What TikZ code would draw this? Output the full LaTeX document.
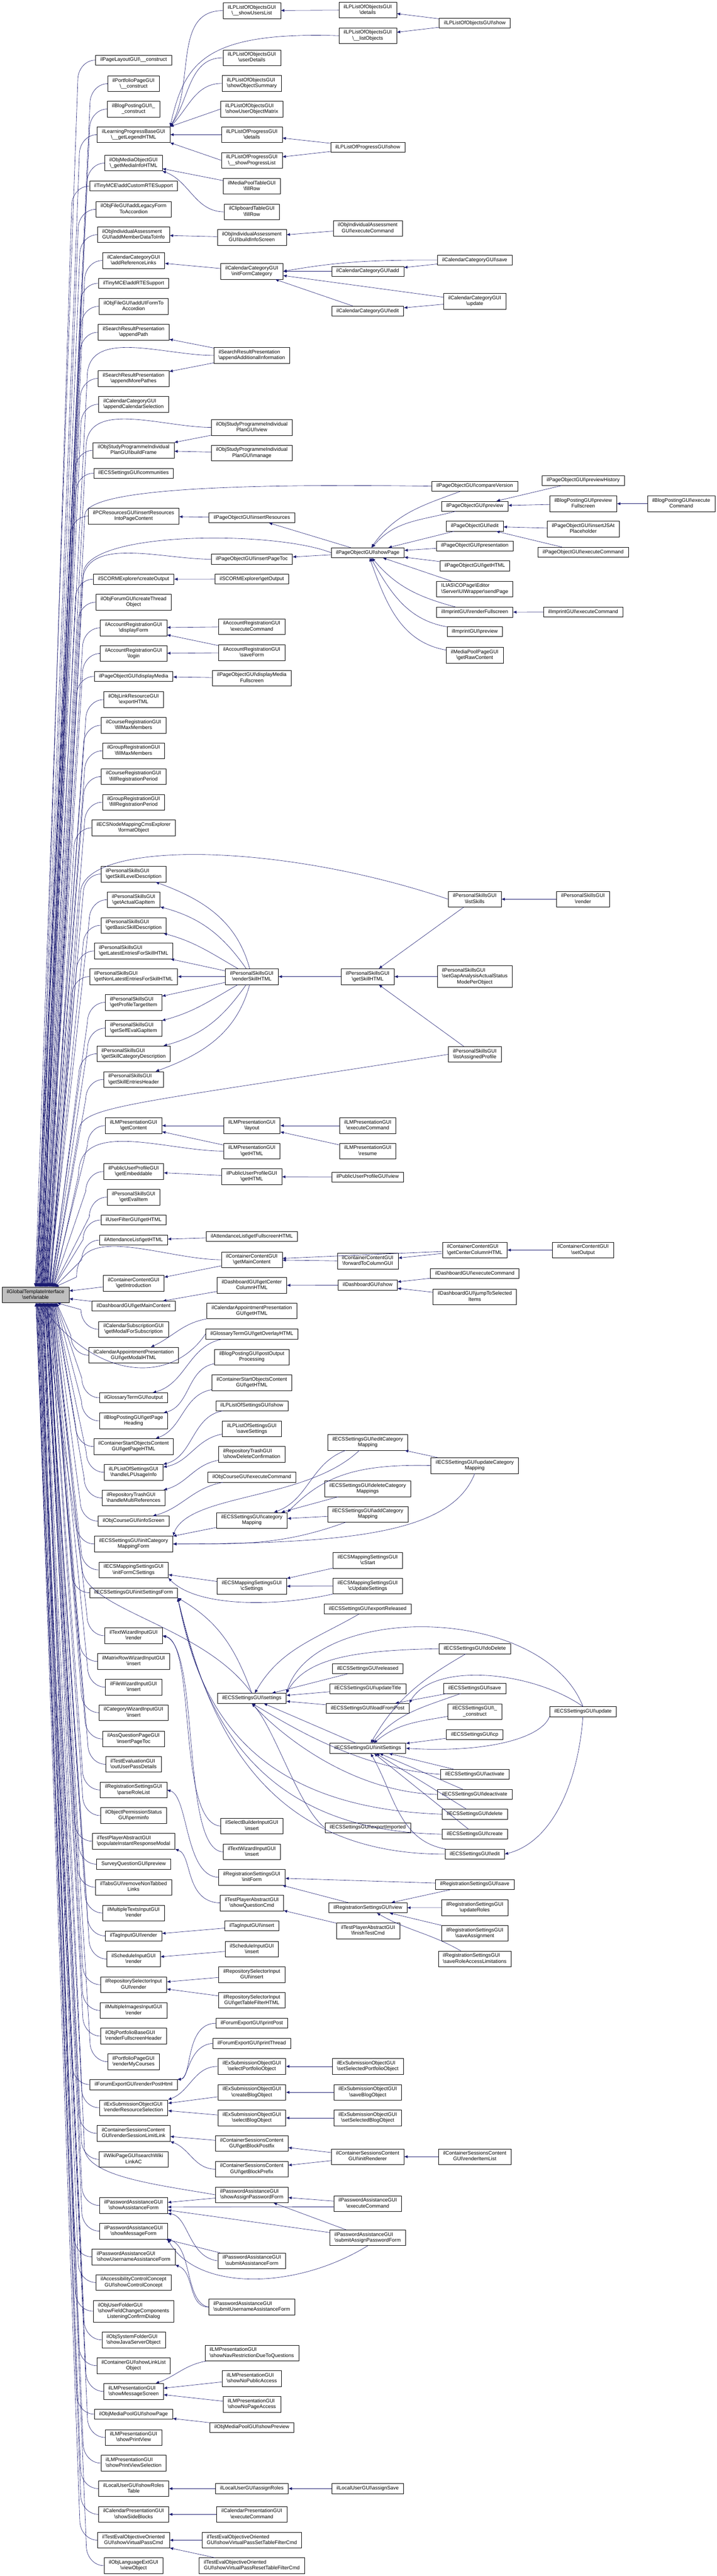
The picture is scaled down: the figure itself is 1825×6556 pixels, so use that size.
\documentclass[tikz,border=0pt]{standalone}
\usepackage{fontspec}
\setmainfont{Liberation Sans}
\usetikzlibrary{arrows.meta}
\definecolor{edgeblue}{HTML}{191970}
\definecolor{rootgray}{HTML}{BFBFBF}
\newcommand{\bsl}{\textbackslash}
\newcommand{\onel}[1]{\begin{tabular}{@{}c@{}}#1\end{tabular}}
\newcommand{\twol}[2]{\begin{tabular}{@{}l@{}}#1\\\multicolumn{1}{@{}c@{}}{#2}\end{tabular}}
\newcommand{\threel}[3]{\begin{tabular}{@{}l@{}}#1\\#2\\\multicolumn{1}{@{}c@{}}{#3}\end{tabular}}
\tikzset{
  fn/.style={draw=black, line width=0.8pt, fill=white, inner xsep=12pt, inner ysep=5.3pt, font=\fontsize{13}{14.7}\selectfont},
  rootfn/.style={fn, fill=rootgray},
  call/.style={draw=edgeblue, line width=0.8pt, -{Latex[length=9pt,width=7.5pt]}}
}
\begin{document}
\begin{tikzpicture}[x=1pt,y=1pt]
\useasboundingbox (0,0) rectangle (1825,-6556);

% the function itself
\node[rootfn] (root) at (90.4,-3295.6) {\twol{ilGlobalTemplateInterface}{\bsl setVariable}};

% first column of callers
\node[fn] (pagelayout) at (340,-153) {\onel{ilPageLayoutGUI\bsl\_\_construct}};
\node[fn] (portfoliopage) at (340,-213) {\twol{ilPortfolioPageGUI}{\bsl\_\_construct}};
\node[fn] (blogposting) at (340,-277.5) {\twol{ilBlogPostingGUI\bsl\_}{\_construct}};
\node[fn] (legend) at (340,-342.7) {\twol{ilLearningProgressBaseGUI}{\bsl\_\_getLegendHTML}};
\node[fn] (mediainfo) at (340,-415) {\twol{ilObjMediaObjectGUI}{\bsl\_getMediaInfoHTML}};
\node[fn] (customrte) at (340,-473.5) {\onel{ilTinyMCE\bsl addCustomRTESupport}};
\node[fn] (legacyform) at (340,-532.8) {\twol{ilObjFileGUI\bsl addLegacyForm}{ToAccordion}};
\node[fn] (memberdata) at (340,-597.3) {\twol{ilObjIndividualAssessment}{GUI\bsl addMemberDataToInfo}};
\node[fn] (reflinks) at (340,-663) {\twol{ilCalendarCategoryGUI}{\bsl addReferenceLinks}};
\node[fn] (rtesupport) at (340,-721) {\onel{ilTinyMCE\bsl addRTESupport}};
\node[fn] (uiform) at (340,-779.7) {\twol{ilObjFileGUI\bsl addUIFormTo}{Accordion}};
\node[fn] (appendpath) at (340,-845.7) {\twol{ilSearchResultPresentation}{\bsl appendPath}};
\node[fn] (morepathes) at (340,-963.2) {\twol{ilSearchResultPresentation}{\bsl appendMorePathes}};
\node[fn] (calsel) at (340,-1028.8) {\twol{ilCalendarCategoryGUI}{\bsl appendCalendarSelection}};
\node[fn] (buildframe) at (340,-1146.1) {\twol{ilObjStudyProgrammeIndividual}{PlanGUI\bsl buildFrame}};
\node[fn] (communities) at (340,-1204.3) {\onel{ilECSSettingsGUI\bsl communities}};
\node[fn] (pcresources) at (340,-1313.4) {\twol{ilPCResourcesGUI\bsl insertResources}{IntoPageContent}};
\node[fn] (createoutput) at (340,-1474.1) {\onel{ilSCORMExplorer\bsl createOutput}};
\node[fn] (forumthread) at (340,-1532.6) {\twol{ilObjForumGUI\bsl createThread}{Object}};
\node[fn] (displayform) at (340,-1597.9) {\twol{ilAccountRegistrationGUI}{\bsl displayForm}};
\node[fn] (login) at (340,-1663.1) {\twol{ilAccountRegistrationGUI}{\bsl login}};
\node[fn] (displaymedia) at (340,-1721.4) {\onel{ilPageObjectGUI\bsl displayMedia}};
\node[fn] (exporthtml) at (340,-1780.6) {\twol{ilObjLinkResourceGUI}{\bsl exportHTML}};
\node[fn] (crsmax) at (340,-1845.9) {\twol{ilCourseRegistrationGUI}{\bsl fillMaxMembers}};
\node[fn] (grpmax) at (340,-1910.8) {\twol{ilGroupRegistrationGUI}{\bsl fillMaxMembers}};
\node[fn] (crsperiod) at (340,-1976.4) {\twol{ilCourseRegistrationGUI}{\bsl fillRegistrationPeriod}};
\node[fn] (grpperiod) at (340,-2041.6) {\twol{ilGroupRegistrationGUI}{\bsl fillRegistrationPeriod}};
\node[fn] (formatobj) at (340,-2106.9) {\twol{ilECSNodeMappingCmsExplorer}{\bsl formatObject}};
\node[fn] (skilllevel) at (340,-2224.5) {\twol{ilPersonalSkillsGUI}{\bsl getSkillLevelDescription}};
\node[fn] (actualgap) at (340,-2289.8) {\twol{ilPersonalSkillsGUI}{\bsl getActualGapItem}};
\node[fn] (basicskill) at (340,-2355) {\twol{ilPersonalSkillsGUI}{\bsl getBasicSkillDescription}};
\node[fn] (latest) at (340,-2420.3) {\twol{ilPersonalSkillsGUI}{\bsl getLatestEntriesForSkillHTML}};
\node[fn] (nonlatest) at (340,-2485.5) {\twol{ilPersonalSkillsGUI}{\bsl getNonLatestEntriesForSkillHTML}};
\node[fn] (profiletarget) at (340,-2551.1) {\twol{ilPersonalSkillsGUI}{\bsl getProfileTargetItem}};
\node[fn] (selfeval) at (340,-2616.7) {\twol{ilPersonalSkillsGUI}{\bsl getSelfEvalGapItem}};
\node[fn] (skillcat) at (340,-2681.9) {\twol{ilPersonalSkillsGUI}{\bsl getSkillCategoryDescription}};
\node[fn] (entrieshead) at (340,-2747.2) {\twol{ilPersonalSkillsGUI}{\bsl getSkillEntriesHeader}};
\node[fn] (lmcontent) at (340,-2864.7) {\twol{ilLMPresentationGUI}{\bsl getContent}};
\node[fn] (embeddable) at (340,-2981.5) {\twol{ilPublicUserProfileGUI}{\bsl getEmbeddable}};
\node[fn] (evalitem) at (340,-3046.7) {\twol{ilPersonalSkillsGUI}{\bsl getEvalItem}};
\node[fn] (userfilter) at (340,-3104.9) {\onel{ilUserFilterGUI\bsl getHTML}};
\node[fn] (attendance) at (340,-3156.1) {\onel{ilAttendanceList\bsl getHTML}};
\node[fn] (introduction) at (340,-3266) {\twol{ilContainerContentGUI}{\bsl getIntroduction}};
\node[fn] (dashmain) at (340,-3324) {\onel{ilDashboardGUI\bsl getMainContent}};
\node[fn] (calsubscr) at (340,-3383) {\twol{ilCalendarSubscriptionGUI}{\bsl getModalForSubscription}};
\node[fn] (modalhtml) at (340,-3448.9) {\twol{ilCalendarAppointmentPresentation}{GUI\bsl getModalHTML}};
\node[fn] (glossout) at (340,-3557.3) {\onel{ilGlossaryTermGUI\bsl output}};
\node[fn] (pageheading) at (340,-3616.2) {\twol{ilBlogPostingGUI\bsl getPage}{Heading}};
\node[fn] (startpage) at (340,-3681.4) {\twol{ilContainerStartObjectsContent}{GUI\bsl getPageHTML}};
\node[fn] (lpusage) at (340,-3747) {\twol{ilLPListOfSettingsGUI}{\bsl handleLPUsageInfo}};
\node[fn] (multiref) at (340,-3812.3) {\twol{ilRepositoryTrashGUI}{\bsl handleMultiReferences}};
\node[fn] (infoscreen) at (340,-3871.2) {\onel{ilObjCourseGUI\bsl infoScreen}};
\node[fn] (catmapform) at (340,-3929.4) {\twol{ilECSSettingsGUI\bsl initCategory}{MappingForm}};
\node[fn] (formcset) at (340,-3995.4) {\twol{ilECSMappingSettingsGUI}{\bsl initFormCSettings}};
\node[fn] (settingsform) at (340,-4053.6) {\onel{ilECSSettingsGUI\bsl initSettingsForm}};
\node[fn] (textwizrender) at (340,-4163) {\twol{ilTextWizardInputGUI}{\bsl render}};
\node[fn] (matrixrow) at (340,-4228.3) {\twol{ilMatrixRowWizardInputGUI}{\bsl insert}};
\node[fn] (filewiz) at (340,-4293.9) {\twol{ilFileWizardInputGUI}{\bsl insert}};
\node[fn] (catwiz) at (340,-4358.8) {\twol{ilCategoryWizardInputGUI}{\bsl insert}};
\node[fn] (asspagetoc) at (340,-4425.6) {\twol{ilAssQuestionPageGUI}{\bsl insertPageToc}};
\node[fn] (passdetails) at (340,-4490.1) {\twol{ilTestEvaluationGUI}{\bsl outUserPassDetails}};
\node[fn] (rolelist) at (340,-4555.4) {\twol{ilRegistrationSettingsGUI}{\bsl parseRoleList}};
\node[fn] (perminfo) at (340,-4620.6) {\twol{ilObjectPermissionStatus}{GUI\bsl perminfo}};
\node[fn] (instresp) at (340,-4685.8) {\twol{ilTestPlayerAbstractGUI}{\bsl populateInstantResponseModal}};
\node[fn] (surveypreview) at (340,-4744.4) {\onel{SurveyQuestionGUI\bsl preview}};
\node[fn] (tabslinks) at (340,-4803) {\twol{ilTabsGUI\bsl removeNonTabbed}{Links}};
\node[fn] (multitexts) at (340,-4868.6) {\twol{ilMultipleTextsInputGUI}{\bsl render}};
\node[fn] (tagrender) at (340,-4926.8) {\onel{ilTagInputGUI\bsl render}};
\node[fn] (schedrender) at (340,-4985.7) {\twol{ilScheduleInputGUI}{\bsl render}};
\node[fn] (reposrender) at (340,-5051) {\twol{ilRepositorySelectorInput}{GUI\bsl render}};
\node[fn] (multiimages) at (340,-5116.6) {\twol{ilMultipleImagesInputGUI}{\bsl render}};
\node[fn] (fullheader) at (340,-5181.8) {\twol{ilObjPortfolioBaseGUI}{\bsl renderFullscreenHeader}};
\node[fn] (mycourses) at (340,-5247) {\twol{ilPortfolioPageGUI}{\bsl renderMyCourses}};
\node[fn] (posthtml) at (340,-5305.3) {\onel{ilForumExportGUI\bsl renderPostHtml}};
\node[fn] (ressel) at (340,-5364.2) {\twol{ilExSubmissionObjectGUI}{\bsl renderResourceSelection}};
\node[fn] (sesslimit) at (340,-5429.5) {\twol{ilContainerSessionsContent}{GUI\bsl renderSessionLimitLink}};
\node[fn] (wikilink) at (340,-5495.5) {\twol{ilWikiPageGUI\bsl searchWiki}{LinkAC}};
\node[fn] (assistform) at (340,-5612.9) {\twol{ilPasswordAssistanceGUI}{\bsl showAssistanceForm}};
\node[fn] (msgform) at (340,-5678.2) {\twol{ilPasswordAssistanceGUI}{\bsl showMessageForm}};
\node[fn] (userassist) at (340,-5743.8) {\twol{ilPasswordAssistanceGUI}{\bsl showUsernameAssistanceForm}};
\node[fn] (controlconcept) at (340,-5809) {\twol{ilAccessibilityControlConcept}{GUI\bsl showControlConcept}};
\node[fn] (fieldchange) at (340,-5882) {\threel{ilObjUserFolderGUI}{\bsl showFieldChangeComponents}{ListeningConfirmDialog}};
\node[fn] (javaserver) at (340,-5955) {\twol{ilObjSystemFolderGUI}{\bsl showJavaServerObject}};
\node[fn] (linklist) at (340,-6020.6) {\twol{ilContainerGUI\bsl showLinkList}{Object}};
\node[fn] (msgscreen) at (340,-6086.2) {\twol{ilLMPresentationGUI}{\bsl showMessageScreen}};
\node[fn] (mppage) at (340,-6144.1) {\onel{ilObjMediaPoolGUI\bsl showPage}};
\node[fn] (printview) at (340,-6203.3) {\twol{ilLMPresentationGUI}{\bsl showPrintView}};
\node[fn] (printsel) at (340,-6268.6) {\twol{ilLMPresentationGUI}{\bsl showPrintViewSelection}};
\node[fn] (rolestable) at (340,-6333.5) {\twol{ilLocalUserGUI\bsl showRoles}{Table}};
\node[fn] (sideblocks) at (340,-6399) {\twol{ilCalendarPresentationGUI}{\bsl showSideBlocks}};
\node[fn] (virtualpass) at (340,-6464.7) {\twol{ilTestEvalObjectiveOriented}{GUI\bsl showVirtualPassCmd}};
\node[fn] (viewobject) at (340,-6529.6) {\twol{ilObjLanguageExtGUI}{\bsl viewObject}};

% second column
\node[fn] (showusers) at (641,-27) {\twol{ilLPListOfObjectsGUI}{\bsl\_\_showUsersList}};
\node[fn] (userdetails) at (641,-147) {\twol{ilLPListOfObjectsGUI}{\bsl userDetails}};
\node[fn] (objsummary) at (641,-212.2) {\twol{ilLPListOfObjectsGUI}{\bsl showObjectSummary}};
\node[fn] (objmatrix) at (641,-277.5) {\twol{ilLPListOfObjectsGUI}{\bsl showUserObjectMatrix}};
\node[fn] (progdetails) at (641,-342.7) {\twol{ilLPListOfProgressGUI}{\bsl details}};
\node[fn] (progresslist) at (641,-408) {\twol{ilLPListOfProgressGUI}{\bsl\_\_showProgressList}};
\node[fn] (mptable) at (641,-473.9) {\twol{ilMediaPoolTableGUI}{\bsl fillRow}};
\node[fn] (clipboard) at (641,-539.1) {\twol{ilClipboardTableGUI}{\bsl fillRow}};
\node[fn] (buildinfo) at (641,-604.4) {\twol{ilObjIndividualAssessment}{GUI\bsl buildInfoScreen}};
\node[fn] (initformcat) at (641,-690.6) {\twol{ilCalendarCategoryGUI}{\bsl initFormCategory}};
\node[fn] (appinfo) at (641,-904.6) {\twol{ilSearchResultPresentation}{\bsl appendAdditionalInformation}};
\node[fn] (spview) at (641,-1087.7) {\twol{ilObjStudyProgrammeIndividual}{PlanGUI\bsl view}};
\node[fn] (spmanage) at (641,-1152.8) {\twol{ilObjStudyProgrammeIndividual}{PlanGUI\bsl manage}};
\node[fn] (insertres) at (641,-1317.6) {\onel{ilPageObjectGUI\bsl insertResources}};
\node[fn] (inserttoc) at (641,-1423.2) {\onel{ilPageObjectGUI\bsl insertPageToc}};
\node[fn] (getoutput) at (641,-1473.7) {\onel{ilSCORMExplorer\bsl getOutput}};
\node[fn] (accexec) at (641,-1594.7) {\twol{ilAccountRegistrationGUI}{\bsl executeCommand}};
\node[fn] (saveform) at (641,-1660.7) {\twol{ilAccountRegistrationGUI}{\bsl saveForm}};
\node[fn] (mediafull) at (641,-1725.9) {\twol{ilPageObjectGUI\bsl displayMedia}{Fullscreen}};
\node[fn] (renderskill) at (641,-2485.5) {\twol{ilPersonalSkillsGUI}{\bsl renderSkillHTML}};
\node[fn] (lmlayout) at (641,-2864.7) {\twol{ilLMPresentationGUI}{\bsl layout}};
\node[fn] (lmhtml) at (641,-2929.6) {\twol{ilLMPresentationGUI}{\bsl getHTML}};
\node[fn] (pubhtml) at (641,-2994.8) {\twol{ilPublicUserProfileGUI}{\bsl getHTML}};
\node[fn] (attfull) at (641,-3147) {\onel{ilAttendanceList\bsl getFullscreenHTML}};
\node[fn] (maincontent) at (641,-3206) {\twol{ilContainerContentGUI}{\bsl getMainContent}};
\node[fn] (centercol) at (641,-3271.2) {\twol{ilDashboardGUI\bsl getCenter}{ColumnHTML}};
\node[fn] (apphtml) at (641,-3336.3) {\twol{ilCalendarAppointmentPresentation}{GUI\bsl getHTML}};
\node[fn] (overlay) at (641,-3394.9) {\onel{ilGlossaryTermGUI\bsl getOverlayHTML}};
\node[fn] (postoutput) at (641,-3453.8) {\twol{ilBlogPostingGUI\bsl postOutput}{Processing}};
\node[fn] (starthtml) at (641,-3518.7) {\twol{ilContainerStartObjectsContent}{GUI\bsl getHTML}};
\node[fn] (lpshow) at (641,-3577.6) {\onel{ilLPListOfSettingsGUI\bsl show}};
\node[fn] (lpsave) at (641,-3636.5) {\twol{ilLPListOfSettingsGUI}{\bsl saveSettings}};
\node[fn] (delconfirm) at (641,-3701.4) {\twol{ilRepositoryTrashGUI}{\bsl showDeleteConfirmation}};
\node[fn] (crsexec) at (641,-3759.7) {\onel{ilObjCourseGUI\bsl executeCommand}};
\node[fn] (catmapping) at (641,-3869.4) {\twol{ilECSSettingsGUI\bsl category}{Mapping}};
\node[fn] (csettings) at (641,-4037.1) {\twol{ilECSMappingSettingsGUI}{\bsl cSettings}};
\node[fn] (settings) at (641,-4322.2) {\onel{ilECSSettingsGUI\bsl settings}};
\node[fn] (selbuild) at (641,-4647.3) {\twol{ilSelectBuilderInputGUI}{\bsl insert}};
\node[fn] (textwizins) at (641,-4712.9) {\twol{ilTextWizardInputGUI}{\bsl insert}};
\node[fn] (reginit) at (641,-4777.7) {\twol{ilRegistrationSettingsGUI}{\bsl initForm}};
\node[fn] (showquestion) at (641,-4843) {\twol{ilTestPlayerAbstractGUI}{\bsl showQuestionCmd}};
\node[fn] (taginsert) at (641,-4901.2) {\onel{ilTagInputGUI\bsl insert}};
\node[fn] (schedinsert) at (641,-4960.8) {\twol{ilScheduleInputGUI}{\bsl insert}};
\node[fn] (reposinsert) at (641,-5025.4) {\twol{ilRepositorySelectorInput}{GUI\bsl insert}};
\node[fn] (reposfilter) at (641,-5090.6) {\twol{ilRepositorySelectorInput}{GUI\bsl getTableFilterHTML}};
\node[fn] (printpost) at (641,-5149.2) {\onel{ilForumExportGUI\bsl printPost}};
\node[fn] (printthread) at (641,-5200.4) {\onel{ilForumExportGUI\bsl printThread}};
\node[fn] (selportfolio) at (641,-5259) {\twol{ilExSubmissionObjectGUI}{\bsl selectPortfolioObject}};
\node[fn] (createblog) at (641,-5325) {\twol{ilExSubmissionObjectGUI}{\bsl createBlogObject}};
\node[fn] (selblog) at (641,-5390.2) {\twol{ilExSubmissionObjectGUI}{\bsl selectBlogObject}};
\node[fn] (blockpostfix) at (641,-5455) {\twol{ilContainerSessionsContent}{GUI\bsl getBlockPostfix}};
\node[fn] (blockprefix) at (641,-5520.5) {\twol{ilContainerSessionsContent}{GUI\bsl getBlockPrefix}};
\node[fn] (assignpw) at (641,-5585.8) {\twol{ilPasswordAssistanceGUI}{\bsl showAssignPasswordForm}};
\node[fn] (submitassist) at (641,-5753.7) {\twol{ilPasswordAssistanceGUI}{\bsl submitAssistanceForm}};
\node[fn] (submituser) at (641,-5871.5) {\twol{ilPasswordAssistanceGUI}{\bsl submitUsernameAssistanceForm}};
\node[fn] (navrestrict) at (641,-5988.5) {\twol{ilLMPresentationGUI}{\bsl showNavRestrictionDueToQuestions}};
\node[fn] (nopublic) at (641,-6053.8) {\twol{ilLMPresentationGUI}{\bsl showNoPublicAccess}};
\node[fn] (nopage) at (641,-6119) {\twol{ilLMPresentationGUI}{\bsl showNoPageAccess}};
\node[fn] (mppreview) at (641,-6177.6) {\onel{ilObjMediaPoolGUI\bsl showPreview}};
\node[fn] (assignroles) at (641,-6333.5) {\onel{ilLocalUserGUI\bsl assignRoles}};
\node[fn] (calexec) at (641,-6399) {\twol{ilCalendarPresentationGUI}{\bsl executeCommand}};
\node[fn] (setfilter) at (641,-6464.7) {\twol{ilTestEvalObjectiveOriented}{GUI\bsl showVirtualPassSetTableFilterCmd}};
\node[fn] (resetfilter) at (641,-6529.6) {\twol{ilTestEvalObjectiveOriented}{GUI\bsl showVirtualPassResetTableFilterCmd}};

% third column
\node[fn] (lpdetails) at (936,-25.6) {\twol{ilLPListOfObjectsGUI}{\bsl details}};
\node[fn] (listobjects) at (936,-90.8) {\twol{ilLPListOfObjectsGUI}{\bsl\_\_listObjects}};
\node[fn] (progshow) at (936,-375) {\onel{ilLPListOfProgressGUI\bsl show}};
\node[fn] (iaexec) at (936,-581.2) {\twol{ilObjIndividualAssessment}{GUI\bsl executeCommand}};
\node[fn] (catadd) at (936,-690.6) {\onel{ilCalendarCategoryGUI\bsl add}};
\node[fn] (catedit) at (936,-791.7) {\onel{ilCalendarCategoryGUI\bsl edit}};
\node[fn] (showpage) at (936,-1406.7) {\onel{ilPageObjectGUI\bsl showPage}};
\node[fn] (skillhtml) at (936,-2485.5) {\twol{ilPersonalSkillsGUI}{\bsl getSkillHTML}};
\node[fn] (lmexec) at (936,-2864.7) {\twol{ilLMPresentationGUI}{\bsl executeCommand}};
\node[fn] (lmresume) at (936,-2929.6) {\twol{ilLMPresentationGUI}{\bsl resume}};
\node[fn] (pubview) at (936,-2995.5) {\onel{ilPublicUserProfileGUI\bsl view}};
\node[fn] (forwardcol) at (936,-3209.8) {\twol{ilContainerContentGUI}{\bsl forwardToColumnGUI}};
\node[fn] (dashshow) at (936,-3270.5) {\onel{ilDashboardGUI\bsl show}};
\node[fn] (editcatmap) at (936,-3670.9) {\twol{ilECSSettingsGUI\bsl editCategory}{Mapping}};
\node[fn] (delcatmap) at (936,-3788.8) {\twol{ilECSSettingsGUI\bsl deleteCategory}{Mappings}};
\node[fn] (addcatmap) at (936,-3853.7) {\twol{ilECSSettingsGUI\bsl addCategory}{Mapping}};
\node[fn] (cstart) at (936,-3971.2) {\twol{ilECSMappingSettingsGUI}{\bsl cStart}};
\node[fn] (cupdate) at (936,-4036.4) {\twol{ilECSMappingSettingsGUI}{\bsl cUpdateSettings}};
\node[fn] (exportrel) at (936,-4095) {\onel{ilECSSettingsGUI\bsl exportReleased}};
\node[fn] (released) at (936,-4246.9) {\onel{ilECSSettingsGUI\bsl released}};
\node[fn] (updatetitle) at (936,-4297.4) {\onel{ilECSSettingsGUI\bsl updateTitle}};
\node[fn] (loadpost) at (936,-4347.8) {\onel{ilECSSettingsGUI\bsl loadFromPost}};
\node[fn] (initsettings) at (936,-4449.4) {\onel{ilECSSettingsGUI\bsl initSettings}};
\node[fn] (exportimp) at (936,-4651.5) {\onel{ilECSSettingsGUI\bsl exportImported}};
\node[fn] (regview) at (936.5,-4855.3) {\onel{ilRegistrationSettingsGUI\bsl view}};
\node[fn] (finishtest) at (936.8,-4913.8) {\twol{ilTestPlayerAbstractGUI}{\bsl finishTestCmd}};
\node[fn] (setselport) at (936,-5259) {\twol{ilExSubmissionObjectGUI}{\bsl setSelectedPortfolioObject}};
\node[fn] (saveblog) at (936,-5325) {\twol{ilExSubmissionObjectGUI}{\bsl saveBlogObject}};
\node[fn] (setselblog) at (936,-5390.2) {\twol{ilExSubmissionObjectGUI}{\bsl setSelectedBlogObject}};
\node[fn] (initrenderer) at (936,-5488.8) {\twol{ilContainerSessionsContent}{GUI\bsl initRenderer}};
\node[fn] (pwexec) at (936,-5608.4) {\twol{ilPasswordAssistanceGUI}{\bsl executeCommand}};
\node[fn] (submitassign) at (936,-5695.1) {\twol{ilPasswordAssistanceGUI}{\bsl submitAssignPasswordForm}};
\node[fn] (assignsave) at (936,-6333.5) {\onel{ilLocalUserGUI\bsl assignSave}};

% fourth column
\node[fn] (lpshowobj) at (1208.5,-58.9) {\onel{ilLPListOfObjectsGUI\bsl show}};
\node[fn] (catsave) at (1208.5,-661.9) {\onel{ilCalendarCategoryGUI\bsl save}};
\node[fn] (catupdate) at (1208.5,-767.1) {\twol{ilCalendarCategoryGUI}{\bsl update}};
\node[fn] (compare) at (1208.5,-1237.3) {\onel{ilPageObjectGUI\bsl compareVersion}};
\node[fn] (pagepreview) at (1208.5,-1288.2) {\onel{ilPageObjectGUI\bsl preview}};
\node[fn] (pageedit) at (1208.5,-1339) {\onel{ilPageObjectGUI\bsl edit}};
\node[fn] (presentation) at (1208.5,-1389.2) {\onel{ilPageObjectGUI\bsl presentation}};
\node[fn] (pagehtml) at (1208.5,-1440) {\onel{ilPageObjectGUI\bsl getHTML}};
\node[fn] (sendpage) at (1208.5,-1499) {\twol{ILIAS\bsl COPage\bsl Editor}{\bsl Server\bsl UIWrapper\bsl sendPage}};
\node[fn] (imprintfull) at (1208.5,-1557.9) {\onel{ilImprintGUI\bsl renderFullscreen}};
\node[fn] (imprintprev) at (1208.5,-1607.7) {\onel{ilImprintGUI\bsl preview}};
\node[fn] (rawcontent) at (1208.5,-1667.3) {\twol{ilMediaPoolPageGUI}{\bsl getRawContent}};
\node[fn] (listskills) at (1208.5,-2288.4) {\twol{ilPersonalSkillsGUI}{\bsl listSkills}};
\node[fn] (gapmode) at (1208.5,-2485.5) {\threel{ilPersonalSkillsGUI}{\bsl setGapAnalysisActualStatus}{ModePerObject}};
\node[fn] (assignedprof) at (1208.5,-2683.3) {\twol{ilPersonalSkillsGUI}{\bsl listAssignedProfile}};
\node[fn] (centerhtml) at (1208.5,-3181.4) {\twol{ilContainerContentGUI}{\bsl getCenterColumnHTML}};
\node[fn] (dashexec) at (1208.5,-3241) {\onel{ilDashboardGUI\bsl executeCommand}};
\node[fn] (jumpsel) at (1208.5,-3300.5) {\twol{ilDashboardGUI\bsl jumpToSelected}{Items}};
\node[fn] (updcatmap) at (1208.5,-3729.8) {\twol{ilECSSettingsGUI\bsl updateCategory}{Mapping}};
\node[fn] (dodelete) at (1208.5,-4196) {\onel{ilECSSettingsGUI\bsl doDelete}};
\node[fn] (ecssave) at (1208.5,-4297) {\onel{ilECSSettingsGUI\bsl save}};
\node[fn] (ecsconstruct) at (1208.5,-4356) {\twol{ilECSSettingsGUI\bsl\_}{\_construct}};
\node[fn] (ecscp) at (1208.5,-4414.7) {\onel{ilECSSettingsGUI\bsl cp}};
\node[fn] (ecsactivate) at (1208.5,-4515.7) {\onel{ilECSSettingsGUI\bsl activate}};
\node[fn] (ecsdeactivate) at (1208.5,-4567) {\onel{ilECSSettingsGUI\bsl deactivate}};
\node[fn] (ecsdelete) at (1208.5,-4617.1) {\onel{ilECSSettingsGUI\bsl delete}};
\node[fn] (ecscreate) at (1208.5,-4668) {\onel{ilECSSettingsGUI\bsl create}};
\node[fn] (ecsedit) at (1208.5,-4718.8) {\onel{ilECSSettingsGUI\bsl edit}};
\node[fn] (regsave) at (1208.5,-4795.6) {\onel{ilRegistrationSettingsGUI\bsl save}};
\node[fn] (updroles) at (1208.5,-4855) {\twol{ilRegistrationSettingsGUI}{\bsl updateRoles}};
\node[fn] (saveassign) at (1208.5,-4920.2) {\twol{ilRegistrationSettingsGUI}{\bsl saveAssignment}};
\node[fn] (saverole) at (1208.5,-4985.4) {\twol{ilRegistrationSettingsGUI}{\bsl saveRoleAccessLimitations}};
\node[fn] (renderitems) at (1208.5,-5488.8) {\twol{ilContainerSessionsContent}{GUI\bsl renderItemList}};

% fifth and sixth column
\node[fn] (prevhistory) at (1484.5,-1222.9) {\onel{ilPageObjectGUI\bsl previewHistory}};
\node[fn] (blogfull) at (1484.5,-1281.9) {\twol{ilBlogPostingGUI\bsl preview}{Fullscreen}};
\node[fn] (jsplaceholder) at (1484.5,-1346.4) {\twol{ilPageObjectGUI\bsl insertJSAt}{Placeholder}};
\node[fn] (pageexec) at (1484.5,-1405.3) {\onel{ilPageObjectGUI\bsl executeCommand}};
\node[fn] (imprintexec) at (1484.5,-1557.6) {\onel{ilImprintGUI\bsl executeCommand}};
\node[fn] (skrender) at (1484,-2288.4) {\twol{ilPersonalSkillsGUI}{\bsl render}};
\node[fn] (setoutput) at (1484,-3181.4) {\twol{ilContainerContentGUI}{\bsl setOutput}};
\node[fn] (ecsupdate) at (1484,-4356) {\onel{ilECSSettingsGUI\bsl update}};
\node[fn] (blogexec) at (1734,-1281.9) {\twol{ilBlogPostingGUI\bsl execute}{Command}};

% callers into the root, first column
\foreach \n [count=\i] in {pagelayout,portfoliopage,blogposting,legend,mediainfo,customrte,legacyform,memberdata,reflinks,rtesupport,uiform,appendpath,morepathes,calsel,buildframe,communities,pcresources,createoutput,forumthread,displayform,login,displaymedia,exporthtml,crsmax,grpmax,crsperiod,grpperiod,formatobj,skilllevel,actualgap,basicskill,latest,nonlatest,profiletarget,selfeval,skillcat,entrieshead,lmcontent,embeddable,evalitem,userfilter,attendance}
  \draw[call] (\n.west) to[out=180,in=90] ++(-45,-50) -- ([xshift={(1.2*\i-2)*1pt}]root.north);
\foreach \n [count=\i] in {calsubscr,modalhtml,glossout,pageheading,startpage,lpusage,multiref,infoscreen,catmapform,formcset,settingsform,textwizrender,matrixrow,filewiz,catwiz,asspagetoc,passdetails,rolelist,perminfo,instresp,surveypreview,tabslinks,multitexts,tagrender,schedrender,reposrender,multiimages,fullheader,mycourses,posthtml,ressel,sesslimit,wikilink,assistform,msgform,userassist,controlconcept,fieldchange,javaserver,linklist,msgscreen,mppage,printview,printsel,rolestable,sideblocks,virtualpass,viewobject}
  \draw[call] (\n.west) to[out=180,in=-90] ++(-45,50) -- ([xshift={(56-1.15*\i)*1pt}]root.south);
\draw[call] (introduction) -- (root);
\draw[call] (dashmain) -- (root);

% callers into the root from further right
\draw[call] (appinfo.west) to[out=180,in=90] (222,-960) -- ([xshift=14pt]root.north);
\draw[call] (spview.west) to[out=180,in=90] (219,-1140) -- ([xshift=18pt]root.north);
\draw[call] (compare.west) .. controls (700,-1232) and (220,-1236) .. (216,-1310) -- ([xshift=22pt]root.north);
\draw[call] (showpage.west) .. controls (700,-1350) and (215,-1350) .. (212,-1460) -- ([xshift=26pt]root.north);
\draw[call] (inserttoc.west) to[out=180,in=90] (209,-1490) -- ([xshift=30pt]root.north);
\draw[call] (listskills.west) .. controls (700,-2140) and (215,-2140) .. (205,-2270) -- ([xshift=36pt]root.north);
\draw[call] (assignedprof.west) .. controls (300,-2815) and (205,-2815) .. (200,-2880) -- ([xshift=42pt]root.north);
\draw[call] (lmhtml.west) to[out=180,in=90] (200,-2990) -- ([xshift=46pt]root.north);
\draw[call] (maincontent.west) to[out=180,in=90] (195,-3250) -- ([xshift=50pt]root.north);
\draw[call] (overlay.west) .. controls (440,-3520) and (250,-3520) .. ([xshift=10pt]root.south);
\draw[call] (settings.north) .. controls (520,-4140) and (230,-4100) .. (210,-4000) -- ([xshift=20pt]root.south);
\draw[call] (assignpw.west) .. controls (400,-5560) and (225,-5540) .. (215,-5470) -- ([xshift=30pt]root.south);

% learning progress, media, calendar
\draw[call] (lpdetails) -- (showusers);
\draw[call] (lpshowobj) -- (lpdetails);
\draw[call] (lpshowobj) -- (listobjects);
\draw[call] (showusers.west) to[out=180,in=60] (legend.north east);
\draw[call] (listobjects.west) .. controls (520,-80) and (470,-160) .. (legend.north east);
\draw[call] (userdetails.west) to[out=180,in=55] (legend.north east);
\draw[call] (objsummary.west) to[out=180,in=45] (legend.north east);
\draw[call] (objmatrix.west) -- (legend.north east);
\draw[call] (progdetails) -- (legend);
\draw[call] (progresslist.west) -- (legend.south east);
\draw[call] (progshow) -- (progdetails);
\draw[call] (progshow) -- (progresslist);
\draw[call] (mptable) -- (mediainfo);
\draw[call] (clipboard.west) to[out=180,in=-20] (mediainfo.south east);
\draw[call] (buildinfo) -- (memberdata);
\draw[call] (iaexec) -- (buildinfo);
\draw[call] (initformcat) -- (reflinks);
\draw[call] (catsave.west) to[out=180,in=10] (initformcat.east);
\draw[call] (catsave) -- (catadd);
\draw[call] (catadd) -- (initformcat);
\draw[call] (catupdate) -- (initformcat);
\draw[call] (catupdate) -- (catedit);
\draw[call] (catedit) -- (initformcat);
\draw[call] (appinfo) -- (appendpath);
\draw[call] (appinfo) -- (morepathes);
\draw[call] (spview) -- (buildframe);
\draw[call] (spmanage) -- (buildframe);

% page objects
\draw[call] (insertres) -- (pcresources);
\draw[call] (showpage) -- (insertres);
\draw[call] (showpage) -- (inserttoc);
\draw[call] (getoutput) -- (createoutput);
\draw[call] (accexec) -- (displayform);
\draw[call] (saveform) -- (displayform);
\draw[call] (saveform) -- (login);
\draw[call] (mediafull) -- (displaymedia);
\draw[call] (compare) to[out=200,in=55] (showpage);
\draw[call] (pagepreview) to[out=195,in=50] (showpage);
\draw[call] (pageedit) -- (showpage);
\draw[call] (presentation) -- (showpage);
\draw[call] (pagehtml) -- (showpage);
\draw[call] (sendpage) -- (showpage);
\draw[call] (imprintfull) to[out=165,in=-50] (showpage);
\draw[call] (imprintprev) to[out=170,in=-60] (showpage);
\draw[call] (rawcontent) to[out=170,in=-70] (showpage);
\draw[call] (prevhistory) -- (pagepreview);
\draw[call] (blogfull) -- (pagepreview);
\draw[call] (blogexec) -- (blogfull);
\draw[call] (jsplaceholder) -- (pageedit);
\draw[call] (pageexec) -- (pageedit);
\draw[call] (imprintexec) -- (imprintfull);

% skills
\draw[call] (renderskill) to[out=105,in=-20] (skilllevel);
\draw[call] (renderskill) to[out=125,in=-15] (actualgap);
\draw[call] (renderskill) to[out=150,in=-15] (basicskill);
\draw[call] (renderskill) -- (latest);
\draw[call] (renderskill) -- (nonlatest);
\draw[call] (renderskill) -- (profiletarget);
\draw[call] (renderskill) to[out=-150,in=15] (selfeval);
\draw[call] (renderskill) to[out=-125,in=15] (skillcat);
\draw[call] (renderskill) to[out=-105,in=20] (entrieshead);
\draw[call] (skillhtml) -- (renderskill);
\draw[call] (listskills) -- (skillhtml);
\draw[call] (gapmode) -- (skillhtml);
\draw[call] (assignedprof) -- (skillhtml);
\draw[call] (skrender) -- (listskills);

% presentation, profile, containers, dashboard
\draw[call] (lmlayout) -- (lmcontent);
\draw[call] (lmhtml) -- (lmcontent);
\draw[call] (lmexec) -- (lmlayout);
\draw[call] (lmresume) -- (lmlayout);
\draw[call] (pubhtml) -- (embeddable);
\draw[call] (pubview) -- (pubhtml);
\draw[call] (attfull) -- (attendance);
\draw[call] (maincontent) -- (introduction);
\draw[call] (centerhtml) -- (maincontent);
\draw[call] (centerhtml) -- (forwardcol);
\draw[call] (setoutput) -- (centerhtml);
\draw[call] (forwardcol) -- (maincontent);
\draw[call] (centercol) -- (dashmain);
\draw[call] (dashshow) -- (centercol);
\draw[call] (dashexec) -- (dashshow);
\draw[call] (jumpsel) -- (dashshow);

% below the root
\draw[call] (apphtml) to[out=190,in=25] (modalhtml);
\draw[call] (overlay) to[out=190,in=15] (glossout);
\draw[call] (postoutput) to[out=190,in=15] (pageheading);
\draw[call] (starthtml) to[out=190,in=20] (startpage);
\draw[call] (lpshow) to[out=190,in=15] (lpusage);
\draw[call] (lpsave) to[out=190,in=10] (lpusage);
\draw[call] (delconfirm) to[out=190,in=15] (multiref);
\draw[call] (crsexec) to[out=190,in=15] (infoscreen);
\draw[call] (catmapping) -- (catmapform);
\draw[call] (editcatmap) to[out=200,in=20] (catmapping);
\draw[call] (editcatmap) .. controls (780,-3820) and (480,-3800) .. (catmapform.north east);
\draw[call] (updcatmap) -- (editcatmap);
\draw[call] (updcatmap.west) .. controls (900,-3725) and (820,-3760) .. (catmapping.north east);
\draw[call] (updcatmap.south) .. controls (1150,-3900) and (900,-3928) .. (catmapform.east);
\draw[call] (delcatmap) -- (catmapping);
\draw[call] (addcatmap) -- (catmapping);
\draw[call] (addcatmap) to[out=200,in=0] (catmapform);
\draw[call] (csettings) -- (formcset);
\draw[call] (cstart) -- (csettings);
\draw[call] (cupdate) -- (csettings);
\draw[call] (cupdate.south west) .. controls (700,-4090) and (500,-4090) .. (formcset.south east);
\draw[call] (settings.north) to[out=110,in=-30] (settingsform.south east);
\draw[call] (selbuild.west) .. controls (450,-4640) and (500,-4180) .. (textwizrender.east);
\draw[call] (textwizins.west) .. controls (460,-4710) and (510,-4190) .. (textwizrender.east);

% ECS settings
\draw[call] (ecsupdate.north) .. controls (1380,-4080) and (800,-4080) .. (settings.north east);
\draw[call] (dodelete.west) .. controls (900,-4200) and (780,-4220) .. (settings.north east);
\draw[call] (exportrel) to[out=-150,in=60] (settings);
\draw[call] (released) -- (settings);
\draw[call] (updatetitle) -- (settings);
\draw[call] (loadpost) -- (settings);
\draw[call] (initsettings) -- (settings);
\draw[call] (exportimp.west) .. controls (760,-4600) and (700,-4400) .. (settings.south);
\draw[call] (ecsactivate.west) .. controls (900,-4500) and (720,-4380) .. (settings.south);
\draw[call] (ecsdeactivate.west) .. controls (880,-4560) and (700,-4400) .. (settings.south);
\draw[call] (ecsdelete.west) .. controls (600,-4600) and (500,-4300) .. (settingsform.south east);
\draw[call] (ecscreate.west) .. controls (620,-4660) and (510,-4320) .. (settingsform.south east);
\draw[call] (ecsedit.west) .. controls (640,-4720) and (520,-4340) .. (settingsform.south east);
\draw[call] (dodelete) to[out=-150,in=60] (initsettings);
\draw[call] (ecssave) -- (loadpost);
\draw[call] (ecssave) to[out=200,in=50] (initsettings);
\draw[call] (ecsconstruct) to[out=190,in=40] (initsettings);
\draw[call] (ecscp) -- (initsettings);
\draw[call] (ecsupdate.south west) .. controls (1380,-4420) and (1250,-4462) .. (initsettings.east);
\draw[call] (ecsupdate.north) .. controls (1350,-4250) and (1100,-4230) .. (loadpost.north east);
\draw[call] (ecsupdate.south) .. controls (1470,-4550) and (1400,-4690) .. (ecsedit.east);
\draw[call] (ecsactivate) -- (initsettings);
\draw[call] (ecsdeactivate) -- (initsettings);
\draw[call] (ecsdelete) -- (initsettings);
\draw[call] (ecscreate) -- (initsettings);
\draw[call] (ecsedit) to[out=170,in=-60] (initsettings);

% registration, forms, exercises
\draw[call] (reginit.west) .. controls (470,-4775) and (480,-4570) .. (rolelist.east);
\draw[call] (showquestion.west) .. controls (470,-4840) and (490,-4720) .. (instresp.south east);
\draw[call] (taginsert) -- (tagrender);
\draw[call] (schedinsert) -- (schedrender);
\draw[call] (reposinsert) -- (reposrender);
\draw[call] (reposfilter) -- (reposrender);
\draw[call] (printpost.west) .. controls (470,-5150) and (490,-5290) .. (posthtml.north east);
\draw[call] (printthread.west) .. controls (480,-5205) and (480,-5290) .. (posthtml.north east);
\draw[call] (selportfolio.west) to[out=180,in=20] (ressel.north east);
\draw[call] (createblog) -- (ressel);
\draw[call] (selblog) -- (ressel);
\draw[call] (setselport) -- (selportfolio);
\draw[call] (saveblog) -- (createblog);
\draw[call] (setselblog) -- (selblog);
\draw[call] (blockpostfix) -- (sesslimit);
\draw[call] (blockprefix.west) to[out=180,in=-20] (sesslimit.south east);
\draw[call] (regsave) -- (reginit);
\draw[call] (regview) -- (reginit);
\draw[call] (regsave) -- (regview);
\draw[call] (updroles) -- (regview);
\draw[call] (saveassign) -- (regview);
\draw[call] (saverole) to[out=150,in=-30] (regview);
\draw[call] (finishtest) -- (showquestion);

% sessions, passwords, the rest
\draw[call] (initrenderer) -- (blockpostfix);
\draw[call] (initrenderer) -- (blockprefix);
\draw[call] (renderitems) -- (initrenderer);
\draw[call] (assignpw) -- (assistform);
\draw[call] (pwexec) -- (assignpw);
\draw[call] ([yshift=-8pt]pwexec.west) -- ([yshift=-4pt]assistform.east);
\draw[call] (submitassign) -- (assistform);
\draw[call] (submitassign) -- (assignpw);
\draw[call] (submitassign.south) .. controls (750,-5830) and (500,-5830) .. (msgform.south east);
\draw[call] (submitassist.west) .. controls (480,-5745) and (480,-5640) .. (assistform.south east);
\draw[call] (submitassist) -- (msgform);
\draw[call] (submituser.west) .. controls (470,-5860) and (490,-5720) .. (msgform.south east);
\draw[call] (submituser.west) to[out=180,in=-20] (userassist.south east);
\draw[call] (navrestrict) to[out=190,in=20] (msgscreen);
\draw[call] (nopublic) -- (msgscreen);
\draw[call] (nopage) -- (msgscreen);
\draw[call] (mppreview) -- (mppage);
\draw[call] (assignroles) -- (rolestable);
\draw[call] (assignsave) -- (assignroles);
\draw[call] (calexec) -- (sideblocks);
\draw[call] (setfilter) -- (virtualpass);
\draw[call] (resetfilter) -- (virtualpass);

\end{tikzpicture}
\end{document}
